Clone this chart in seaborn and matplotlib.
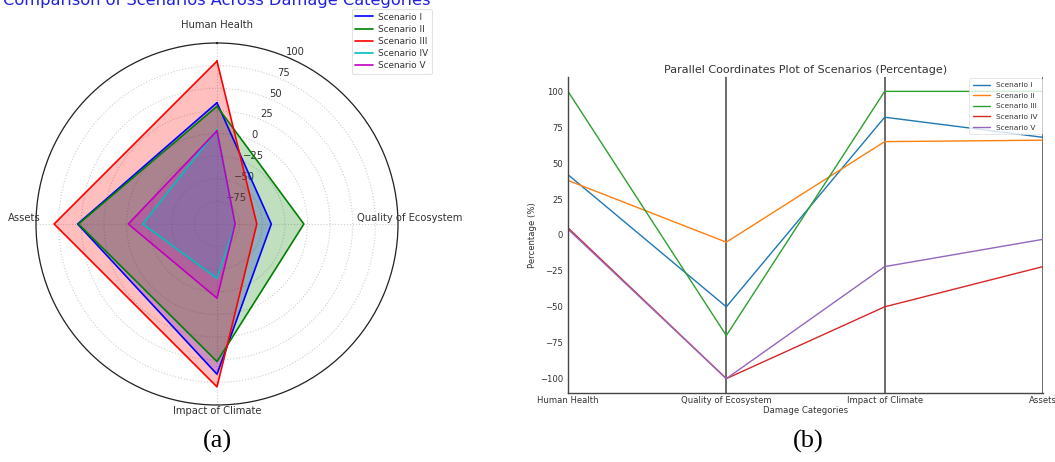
import numpy as np
import pandas as pd
import matplotlib
matplotlib.use("Agg")
import matplotlib.pyplot as plt
import seaborn as sns

# Damage categories and scenario names
categories = ["Human Health", "Quality of Ecosystem", "Impact of Climate", "Assets"]
scenarios = ["Scenario I", "Scenario II", "Scenario III", "Scenario IV", "Scenario V"]

# Radar chart scores (one value per category)
radar_s1 = [34, -40, 66, 54]
radar_s2 = [30, -4, 52, 53]
radar_s3 = [80, -56, 80, 80]
radar_s4 = [4, -80, -40, -18]
radar_s5 = [3, -80, -18, -2]

# Parallel-coordinates percentages (one value per category)
pct_s1 = [42, -50, 82, 68]
pct_s2 = [38, -5, 65, 66]
pct_s3 = [100, -70, 100, 100]
pct_s4 = [5, -100, -50, -22]
pct_s5 = [4, -100, -22, -3]

radar_ticks = [-75, -50, -25, 0, 25, 50, 75, 100]
pct_ticks = [-100, -75, -50, -25, 0, 25, 50, 75, 100]

radar_values = [radar_s1, radar_s2, radar_s3, radar_s4, radar_s5]
pct_values = [pct_s1, pct_s2, pct_s3, pct_s4, pct_s5]

radar_colors = ["#0000ff", "#008000", "#ff0000", "#00bfbf", "#bf00bf"]
pct_colors = sns.color_palette("tab10", 5)

sns.set_theme(style="white")
plt.rcParams["font.family"] = ["DejaVu Sans"]

W, H = 1055, 462
fig = plt.figure(figsize=(W / 100, H / 100), dpi=100)
fig.patch.set_facecolor("white")

# ---------------- (a) radar chart ----------------
cx, cy, R = 217, 224, 181
ax1 = fig.add_axes([(cx - R) / W, (H - cy - R) / H, 2 * R / W, 2 * R / H], projection="polar")
ax1.set_theta_offset(np.pi / 2)
ax1.set_theta_direction(-1)

angles = np.linspace(0, 2 * np.pi, len(categories), endpoint=False)
closed_angles = np.concatenate([angles, [2 * np.pi]])

rows = []
for name, vals in zip(scenarios, radar_values):
    closed = list(vals) + [vals[0]]
    for th, v in zip(closed_angles, closed):
        rows.append({"theta": th, "value": v, "scenario": name})
radar_df = pd.DataFrame(rows)

sns.lineplot(data=radar_df, x="theta", y="value", hue="scenario",
             palette=radar_colors, sort=False, estimator=None,
             linewidth=1.2, ax=ax1, legend=False)
for name, col in zip(scenarios, radar_colors):
    sub = radar_df[radar_df["scenario"] == name]
    ax1.fill(sub["theta"], sub["value"], color=col, alpha=0.25, linewidth=0)

ax1.set_ylim(-100, 100)
ax1.set_yticks(radar_ticks)
ax1.set_xticks(angles)
ax1.set_xticklabels([])
ax1.tick_params(axis="y", labelsize=7.2, labelcolor="#333333")
ax1.set_xlabel("")
ax1.set_ylabel("")
ax1.grid(True, color="#cfcfcf", linestyle=":", linewidth=0.8)
ax1.spines["polar"].set_color("#222222")
ax1.spines["polar"].set_linewidth(0.9)

# category names just outside the outer ring
for ang, name in zip(angles, categories):
    dx = 12 * np.sin(ang)
    dy = 12 * np.cos(ang) + 6
    ax1.annotate(name, xy=(ang, 100), xytext=(dx, dy), textcoords="offset pixels",
                 ha="center", va="center", fontsize=7.2, color="#333333",
                 annotation_clip=False)

handles = [plt.Line2D([], [], color=c, lw=1.2) for c in radar_colors]
leg1 = ax1.legend(handles, scenarios, loc="upper right", bbox_to_anchor=(432 / W, 1 - 9 / H),
                  bbox_transform=fig.transFigure, fontsize=6.4, frameon=True,
                  handlelength=2.0, handletextpad=0.6, borderpad=0.4,
                  labelspacing=0.35, borderaxespad=0)
leg1.get_frame().set_edgecolor("#dddddd")
leg1.get_frame().set_linewidth(0.8)
for t in leg1.get_texts():
    t.set_color("#333333")

fig.text(cx / W, 1 - 5 / H, "Comparison of Scenarios Across Damage Categories",
         ha="center", va="baseline", fontsize=11.7, color="#2020e0")

# ---------------- (b) parallel coordinates ----------------
x0, x1, y0, y1 = 568, 1043, 77, 393
ax2 = fig.add_axes([x0 / W, 1 - y1 / H, (x1 - x0) / W, (y1 - y0) / H])

prow = []
for name, vals in zip(scenarios, pct_values):
    for i, v in enumerate(vals):
        prow.append({"category": i, "pct": v, "scenario": name})
pct_df = pd.DataFrame(prow)

sns.lineplot(data=pct_df, x="category", y="pct", hue="scenario",
             palette=pct_colors, sort=False, estimator=None,
             linewidth=1.0, ax=ax2)
for i in range(len(categories)):
    ax2.axvline(i, color="#444444", linewidth=1.1, zorder=0.5)

ax2.set_xlim(0, len(categories) - 1)
ax2.set_ylim(-110, 110)
ax2.set_xticks(range(len(categories)))
ax2.set_xticklabels(categories)
ax2.set_yticks(pct_ticks)
ax2.tick_params(axis="both", labelsize=6.1, labelcolor="#333333", direction="in",
                length=3, width=0.6, color="#444444")
ax2.tick_params(axis="x", length=0, pad=2)
for s in ["top", "right"]:
    ax2.spines[s].set_visible(False)
for s in ["left", "bottom"]:
    ax2.spines[s].set_color("#444444")
    ax2.spines[s].set_linewidth(1.0)
ax2.set_xlabel("Damage Categories", fontsize=6.1, color="#333333", labelpad=1)
ax2.set_ylabel("Percentage (%)", fontsize=6.1, color="#333333", labelpad=2)
ax2.set_title("Parallel Coordinates Plot of Scenarios (Percentage)", fontsize=8.0,
              color="#333333", pad=3)
leg2 = ax2.legend(loc="upper right", fontsize=5.3, frameon=True, title=None,
                  handlelength=2.4, borderpad=0.5, labelspacing=0.6, borderaxespad=0.2)
leg2.get_frame().set_edgecolor("#dddddd")
leg2.get_frame().set_linewidth(0.6)
for t in leg2.get_texts():
    t.set_color("#333333")

# ---------------- panel captions ----------------
fig.text(217 / W, 1 - 441 / H, "(a)", ha="center", va="center",
         fontsize=19, family="Liberation Serif", color="black")
fig.text(808 / W, 1 - 441 / H, "(b)", ha="center", va="center",
         fontsize=19, family="Liberation Serif", color="black")

fig.savefig("out.png", dpi=100, facecolor="white")
